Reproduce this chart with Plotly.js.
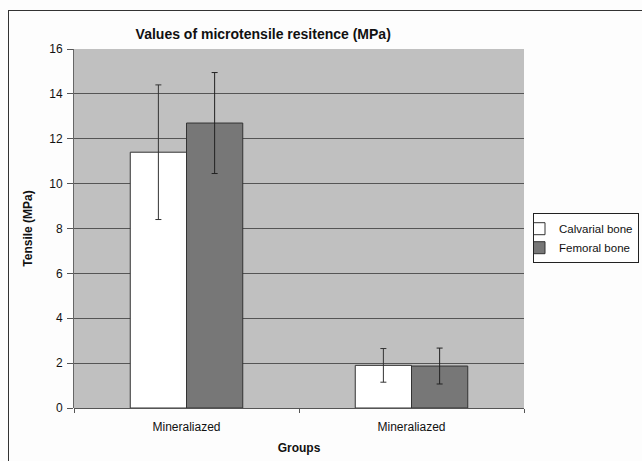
<!DOCTYPE html>
<html>
<head>
<meta charset="utf-8">
<script src="https://cdn.plot.ly/plotly-3.0.1.min.js"></script>
<style>
  html, body { margin: 0; padding: 0; background: #fdfdfd; }
  #wrap { position: relative; width: 642px; height: 461px; overflow: hidden; }
  #frame { position: absolute; left: 8px; top: 10px; width: 700px; height: 500px; border: 1px solid #333; box-sizing: border-box; pointer-events: none; }
  #chart { position: absolute; left: 0; top: 0; width: 642px; height: 461px; }
</style>
</head>
<body>
<div id="wrap">
  <div id="chart"></div>
  <div id="frame"></div>
</div>
<script>
var categories = ["Mineraliazed", "Mineraliazed"];
var calvarialValues = [11.4, 1.9];
var calvarialErrors = [3.0, 0.75];
var femoralValues = [12.7, 1.87];
var femoralErrors = [2.25, 0.8];
var yTicks = [0, 2, 4, 6, 8, 10, 12, 14, 16];

var xpos = categories.map(function (c, i) { return i; });

var traces = [
  {
    type: 'bar', name: 'Calvarial bone', x: xpos, y: calvarialValues,
    marker: { color: '#ffffff', line: { color: '#333333', width: 1 } },
    error_y: { type: 'data', array: calvarialErrors, visible: true, color: '#333333', thickness: 1, width: 3 }
  },
  {
    type: 'bar', name: 'Femoral bone', x: xpos, y: femoralValues,
    marker: { color: '#777777', line: { color: '#333333', width: 1 } },
    error_y: { type: 'data', array: femoralErrors, visible: true, color: '#222222', thickness: 1, width: 3 }
  }
];

var layout = {
  width: 642, height: 461,
  margin: { l: 74, r: 118, t: 49, b: 53, autoexpand: false },
  paper_bgcolor: 'rgba(0,0,0,0)',
  plot_bgcolor: '#c0c0c0',
  font: { family: 'Liberation Sans, Arial, sans-serif', size: 12, color: '#111' },
  title: { text: '<b>Values of microtensile resitence (MPa)</b>', x: 0.41, xanchor: 'center', y: 0.927, yanchor: 'middle', font: { size: 14, color: '#111' } },
  barmode: 'group', bargap: 0.5, bargroupgap: 0,
  xaxis: {
    range: [-0.5, 1.5], tickmode: 'array', tickvals: xpos, ticktext: categories,
    ticks: '', showgrid: false, zeroline: false, showline: false,
    ticklabelstandoff: 10,
    minor: { tickmode: 'array', tickvals: [-0.5, 0.5, 1.5], ticks: 'outside', ticklen: 4, tickcolor: '#555', showgrid: false },
    title: { text: '<b>Groups</b>', standoff: 10, font: { size: 12 } },
    tickfont: { size: 12, color: '#111' }
  },
  yaxis: {
    range: [0, 16], tickmode: 'array', tickvals: yTicks,
    ticks: 'outside', ticklen: 6, tickcolor: '#555',
    showgrid: true, gridcolor: '#555555', gridwidth: 1,
    showline: true, linecolor: '#666', zeroline: true, zerolinecolor: '#555',
    ticklabelstandoff: 2,
    title: { text: '<b>Tensile (MPa)</b>', standoff: 14, font: { size: 12 } },
    tickfont: { size: 12, color: '#111' }
  },
  legend: {
    x: 1.02, xanchor: 'left', y: 0.473, yanchor: 'middle',
    bgcolor: '#ffffff', bordercolor: '#222', borderwidth: 1,
    font: { size: 11.5, color: '#111' }, tracegroupgap: 0, itemwidth: 30,
    indentation: -15
  },
  showlegend: true
};

Plotly.newPlot('chart', traces, layout, { displayModeBar: false, staticPlot: true });
</script>
</body>
</html>
